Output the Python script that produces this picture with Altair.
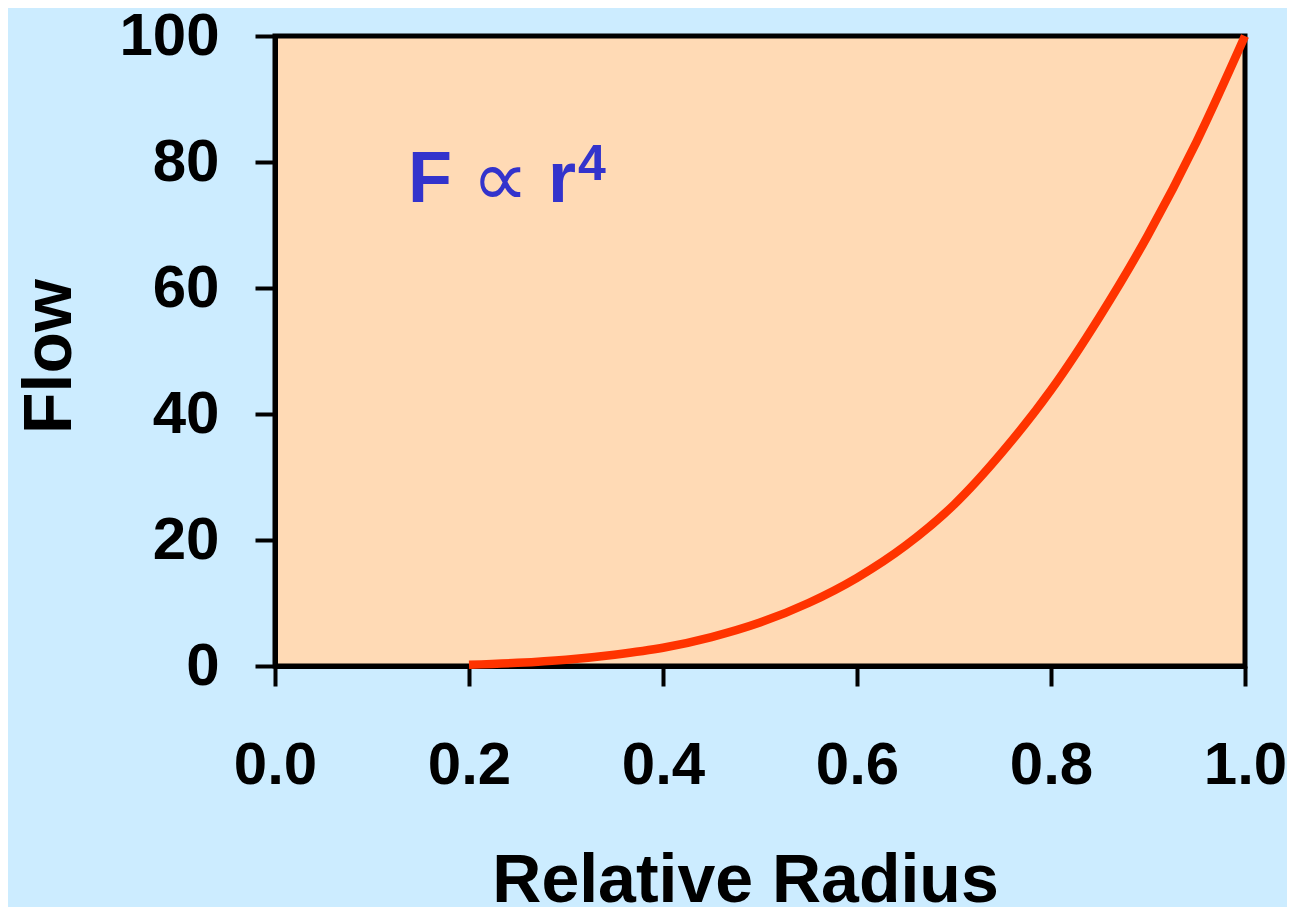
import altair as alt
import pandas as pd

# Curve
radius = [0.20, 0.25, 0.30, 0.35, 0.40, 0.45, 0.50, 0.55, 0.60, 0.65, 0.70,
          0.75, 0.80, 0.85, 0.90, 0.95, 1.00]
flow = [0.2, 0.5, 1.0, 1.8, 2.9, 4.6, 6.9, 10.0, 14.0, 19.1, 25.6,
        34.0, 43.8, 55.4, 68.4, 83.2, 100.0]

x_ticks = [0.0, 0.2, 0.4, 0.6, 0.8, 1.0]
y_ticks = [0, 20, 40, 60, 80, 100]

# Annotation "F ∝ r⁴" pieces (data coordinates)
big_text = ["F", "r"]
big_x = [0.137, 0.2814]
big_y = [73.6, 73.6]
prop_text = ["∝"]
prop_x = [0.232]
prop_y = [73.0]
sup_text = ["4"]
sup_x = [0.3124]
sup_y = [77.1]

curve = pd.DataFrame({"r": radius, "f": flow})
big_df = pd.DataFrame({"t": big_text, "r": big_x, "f": big_y})
prop_df = pd.DataFrame({"t": prop_text, "r": prop_x, "f": prop_y})
sup_df = pd.DataFrame({"t": sup_text, "r": sup_x, "f": sup_y})

BLUE = "#3333CC"
FONT = "Liberation Sans"

xscale = alt.Scale(domain=[0, 1], nice=False, zero=False)
yscale = alt.Scale(domain=[0, 100], nice=False)

xaxis = alt.Axis(
    values=x_ticks, format=".1f", title="Relative Radius",
    labelFont=FONT, labelFontSize=60, labelFontWeight="bold", labelColor="black",
    labelBaseline="alphabetic", labelPadding=97, labelFlush=False,
    labelOverlap=False, labelBound=False,
    tickSize=20, tickWidth=4, tickColor="black",
    domainColor="black", domainWidth=5, grid=False,
    titleFont=FONT, titleFontSize=68, titleFontWeight="bold", titleColor="black",
    titleX=470, titleY=235, titleBaseline="alphabetic", titleAlign="center",
)
yaxis = alt.Axis(
    values=y_ticks, format="d", title="Flow",
    labelFont=FONT, labelFontSize=60, labelFontWeight="bold", labelColor="black",
    labelPadding=36, labelFlush=False, labelOverlap=False, labelBound=False,
    tickSize=20, tickWidth=4, tickColor="black",
    domainColor="black", domainWidth=5, grid=False,
    titleFont=FONT, titleFontSize=68, titleFontWeight="bold", titleColor="black",
    titleAngle=270, titleX=-205, titleY=320, titleBaseline="alphabetic",
    titleAlign="center",
)

line = alt.Chart(curve).mark_line(
    color="#FF3300", strokeWidth=8.5, interpolate="monotone", clip=False,
    strokeCap="butt",
).encode(
    x=alt.X("r:Q", scale=xscale, axis=xaxis),
    y=alt.Y("f:Q", scale=yscale, axis=yaxis),
)

big = alt.Chart(big_df).mark_text(
    font=FONT, fontSize=72, fontWeight="bold", color=BLUE,
    align="left", baseline="alphabetic",
).encode(x=alt.X("r:Q", scale=xscale), y=alt.Y("f:Q", scale=yscale), text="t:N")

prop = alt.Chart(prop_df).mark_text(
    font="DejaVu Sans", fontSize=80, color=BLUE,
    align="center", baseline="alphabetic",
).encode(x=alt.X("r:Q", scale=xscale), y=alt.Y("f:Q", scale=yscale), text="t:N")

sup = alt.Chart(sup_df).mark_text(
    font=FONT, fontSize=50, fontWeight="bold", color=BLUE,
    align="left", baseline="alphabetic",
).encode(x=alt.X("r:Q", scale=xscale), y=alt.Y("f:Q", scale=yscale), text="t:N")

chart = alt.layer(line, big, prop, sup).properties(
    width=970, height=630,
    autosize=alt.AutoSizeParams(type="none"),
    padding={"left": 267, "top": 28, "right": 42, "bottom": 241},
    background="#CCECFF",
).configure_view(
    fill="#FFDAB5", stroke="black", strokeWidth=5,
)

chart.save("out.html", embed_options={"renderer": "svg", "actions": False})
